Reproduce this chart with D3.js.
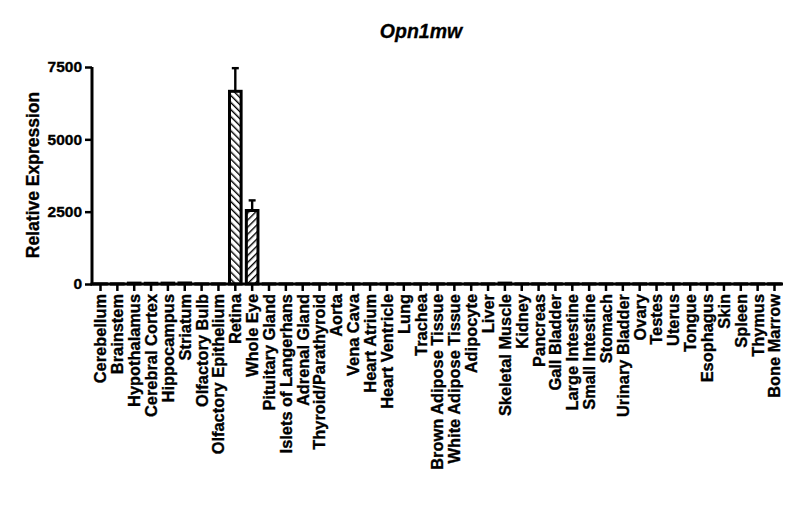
<!DOCTYPE html>
<html><head><meta charset="utf-8">
<script src="https://cdn.jsdelivr.net/npm/d3@7"></script>
<style>body{margin:0;background:#fff;}svg{display:block;font-family:"Liberation Sans",Arial,sans-serif;}</style>
</head><body>
<svg id="c" width="800" height="522"></svg>
<script>
const categories = ["Cerebellum","Brainstem","Hypothalamus","Cerebral Cortex","Hippocampus","Striatum","Olfactory Bulb","Olfactory Epithelium","Retina","Whole Eye","Pituitary Gland","Islets of Langerhans","Adrenal Gland","Thyroid/Parathyroid","Aorta","Vena Cava","Heart Atrium","Heart Ventricle","Lung","Trachea","Brown Adipose Tissue","White Adipose Tissue","Adipocyte","Liver","Skeletal Muscle","Kidney","Pancreas","Gall Bladder","Large Intestine","Small Intestine","Stomach","Urinary Bladder","Ovary","Testes","Uterus","Tongue","Esophagus","Skin","Spleen","Thymus","Bone Marrow"];
const values = [5,5,30,25,30,35,5,5,6660,2540,5,5,5,5,5,5,5,5,5,5,5,5,5,5,30,5,5,5,5,5,5,5,5,5,5,5,5,5,5,5,5];
const errors = [0,0,0,0,0,0,0,0,800,350,0,0,0,0,0,0,0,0,0,0,0,0,0,0,0,0,0,0,0,0,0,0,0,0,0,0,0,0,0,0,0];
const hatch = {"Retina":"back","Whole Eye":"fwd"};
const yTicks = [0,2500,5000,7500];
const title = "Opn1mw";
const yLabel = "Relative Expression";

const svg = d3.select("#c");
const x = d3.scaleBand().domain(categories).range([92,783]).paddingInner(0.31).paddingOuter(0.16);
const y = d3.scaleLinear().domain([0,7500]).range([284,67]);

const defs = svg.append("defs");
function mkPat(id, dir){
  const p = defs.append("pattern").attr("id",id).attr("patternUnits","userSpaceOnUse")
    .attr("width",5).attr("height",5)
    .attr("patternTransform","rotate("+(dir==="back"?-45:45)+")");
  p.append("rect").attr("width",5).attr("height",5).attr("fill","#fff");
  p.append("line").attr("x1",0).attr("y1",0).attr("x2",0).attr("y2",5).attr("stroke","#000").attr("stroke-width",2.8);
}
mkPat("hb","back"); mkPat("hf","fwd");

const data = categories.map((c,i)=>({c, v:values[i], e:errors[i]}));

// error bars
const eb = svg.append("g").selectAll("g").data(data.filter(d=>d.e>0)).join("g");
eb.append("line").attr("x1",d=>x(d.c)+x.bandwidth()/2).attr("x2",d=>x(d.c)+x.bandwidth()/2)
  .attr("y1",d=>y(d.v)).attr("y2",d=>y(d.v+d.e)).attr("stroke","#000").attr("stroke-width",2.4);
eb.append("line").attr("x1",d=>x(d.c)+x.bandwidth()/2-3.5).attr("x2",d=>x(d.c)+x.bandwidth()/2+3.5)
  .attr("y1",d=>y(d.v+d.e)).attr("y2",d=>y(d.v+d.e)).attr("stroke","#000").attr("stroke-width",2.4);

// bars
svg.append("g").selectAll("rect").data(data).join("rect")
  .attr("x",d=>x(d.c)).attr("width",x.bandwidth())
  .attr("y",d=>y(d.v)).attr("height",d=>y(0)-y(d.v))
  .attr("fill",d=>hatch[d.c]==="back"?"url(#hb)":hatch[d.c]==="fwd"?"url(#hf)":"#fff")
  .attr("stroke","#000").attr("stroke-width",3);

// y axis
const ya = svg.append("g").attr("transform","translate(92,0)")
  .call(d3.axisLeft(y).tickValues(yTicks).tickSize(7).tickPadding(3).tickFormat(d3.format("d")));
ya.select(".domain").attr("stroke-width",3).attr("d","M0,"+(y(7500))+"V"+(y(0)+1.5));
ya.selectAll(".tick line").attr("stroke-width",2.5);
ya.selectAll("text").attr("font-size",15.5).attr("font-weight","bold").attr("fill","#000")
  .attr("stroke","#000").attr("stroke-width",0.35);

// x axis
const xa = svg.append("g").attr("transform","translate(0,284)")
  .call(d3.axisBottom(x).tickSize(7).tickSizeOuter(0));
xa.select(".domain").attr("stroke-width",3).attr("d","M90.5,0H783");
xa.selectAll(".tick line").attr("stroke-width",2.5);
xa.selectAll("text").attr("font-size",16.4).attr("font-weight","bold").attr("fill","#000")
  .attr("stroke","#000").attr("stroke-width",0.35)
  .attr("text-anchor","end").attr("transform","rotate(-90)")
  .attr("x",-10).attr("y",0).attr("dy","0.36em");

// title
svg.append("text").attr("x",421).attr("y",37.5).attr("text-anchor","middle")
  .attr("font-size",19.5).attr("font-weight","bold").attr("font-style","italic")
  .attr("stroke","#000").attr("stroke-width",0.3).text(title);
// y label
svg.append("text").attr("transform","translate(39,175) rotate(-90)").attr("text-anchor","middle")
  .attr("font-size",17.5).attr("font-weight","bold")
  .attr("stroke","#000").attr("stroke-width",0.35).text(yLabel);
</script>
</body></html>
